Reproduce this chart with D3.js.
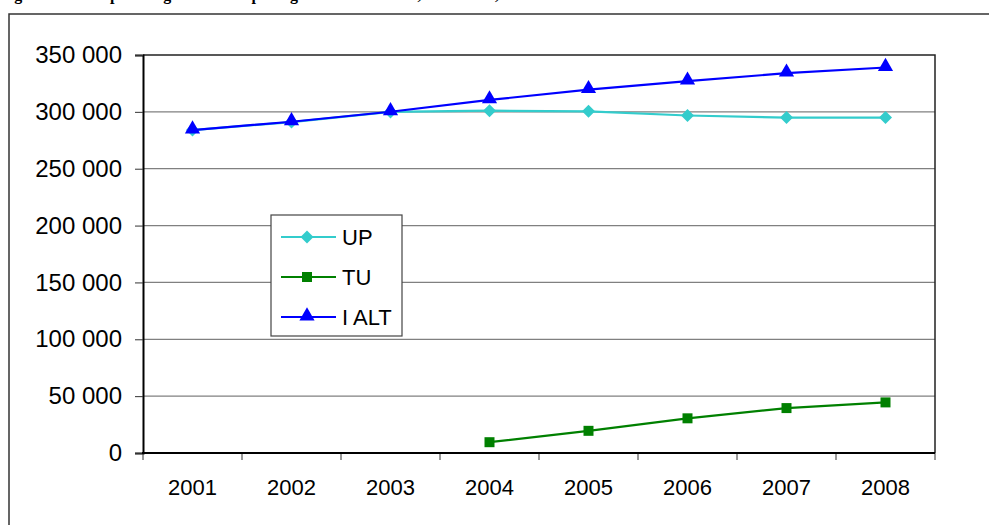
<!DOCTYPE html>
<html lang="da">
<head>
<meta charset="UTF-8">
<script src="https://cdnjs.cloudflare.com/ajax/libs/d3/7.9.0/d3.min.js"></script>
<title>UP, TU og I ALT 2001-2008</title>
<style>
    body { margin: 0; background: white; }
    svg { display: block; font-family: "Liberation Sans", Arial, sans-serif; }
</style>
</head>
<body>
<div id="chart"></div>
<script>
// data
const years = ["2001", "2002", "2003", "2004", "2005", "2006", "2007", "2008"];
const upValues = [284000, 291000, 300000, 301000, 300500, 296800, 295000, 295000];
const tuValues = [null, null, null, 9500, 19500, 30500, 39500, 44500];
const iAltValues = [284000, 291300, 300100, 310500, 319500, 327000, 334000, 339000];
const yTicks = [0, 50000, 100000, 150000, 200000, 250000, 300000, 350000];
const seriesNames = ["UP", "TU", "I ALT"];
const titleText = "Figur 2. Elevtal på UP og TU fordelt på ungdomsuddannelser, 2001-2008,";

const width = 989, height = 525;
const plot = { left: 143, right: 935, top: 55, bottom: 453 };
const fontSize = 22;

const svg = d3.select("#chart").append("svg")
    .attr("width", width)
    .attr("height", height);

// title, cut off by the top of the window
svg.append("text")
    .attr("x", 0).attr("y", 0)
    .attr("font-family", "'Liberation Serif', serif")
    .attr("font-weight", "bold")
    .attr("font-size", 16)
    .text(titleText);

// outer frame (only left and top edges fall inside the window)
svg.append("rect")
    .attr("x", 9).attr("y", 14)
    .attr("width", 1100).attr("height", 600)
    .attr("fill", "none")
    .attr("stroke", "#333")
    .attr("stroke-width", 1.5);

const x = d3.scaleBand().domain(years).range([plot.left, plot.right]);
const y = d3.scaleLinear().domain([0, 350000]).range([plot.bottom, plot.top]);
const cx = (d, i) => x(years[i]) + x.bandwidth() / 2;

// gridlines
svg.append("g").selectAll("line")
    .data(yTicks.filter(d => d > 0 && d < 350000))
    .join("line")
    .attr("x1", plot.left).attr("x2", plot.right)
    .attr("y1", d => y(d)).attr("y2", d => y(d))
    .attr("stroke", "#808080")
    .attr("stroke-width", 1.2);

// plot area border (top + right)
svg.append("path")
    .attr("d", `M${plot.left},${y(350000)}H${plot.right}V${plot.bottom}`)
    .attr("fill", "none")
    .attr("stroke", "#222")
    .attr("stroke-width", 1.5);

// y axis
const fmt = d => d3.format(",")(d).replace(/,/g, " ");
const yAxis = svg.append("g")
    .attr("transform", `translate(${plot.left},0)`)
    .call(d3.axisLeft(y).tickValues(yTicks).tickSize(8).tickPadding(13).tickFormat(fmt));
yAxis.select(".domain").attr("stroke", "#000").attr("stroke-width", 2);
yAxis.selectAll(".tick line").attr("stroke", "#333");
yAxis.selectAll("text").attr("font-size", 24).attr("font-family", "'Liberation Sans', Arial, sans-serif").attr("fill", "#000");

// x axis: labels at band centres, ticks on band edges
const xAxis = svg.append("g")
    .attr("transform", `translate(0,${plot.bottom})`)
    .call(d3.axisBottom(x).tickSize(0).tickPadding(26));
xAxis.select(".domain").remove();
xAxis.selectAll("text").attr("font-size", fontSize).attr("font-family", "'Liberation Sans', Arial, sans-serif").attr("fill", "#000");
xAxis.selectAll(".edge")
    .data(years.map(d => x(d)).concat([plot.right]))
    .join("line")
    .attr("class", "edge")
    .attr("x1", d => d).attr("x2", d => d)
    .attr("y1", 0).attr("y2", 7)
    .attr("stroke", "#333");
xAxis.append("line")
    .attr("x1", plot.left - 1).attr("x2", plot.right)
    .attr("stroke", "#000").attr("stroke-width", 2);

// series
const series = [
    { name: seriesNames[0], values: upValues, color: "#33CCCC", symbol: "diamond" },
    { name: seriesNames[1], values: tuValues, color: "#008000", symbol: "square" },
    { name: seriesNames[2], values: iAltValues, color: "#0000FF", symbol: "triangle" }
];

const markerPath = {
    diamond: d3.symbol(d3.symbolSquare, 85)(),
    square: d3.symbol(d3.symbolSquare, 100)(),
    triangle: d3.symbol(d3.symbolTriangle, 100)()
};
const markerRotate = { diamond: 45, square: 0, triangle: 0 };
const markerShift = { diamond: 0, square: 0, triangle: -1 };

const line = d3.line()
    .defined(d => d != null)
    .x(cx)
    .y(d => y(d));

series.forEach(s => {
    const g = svg.append("g");
    g.append("path")
        .attr("d", line(s.values))
        .attr("fill", "none")
        .attr("stroke", s.color)
        .attr("stroke-width", 2.2);
    g.selectAll("path.marker")
        .data(s.values.map((v, i) => ({ v, i })).filter(d => d.v != null))
        .join("path")
        .attr("class", "marker")
        .attr("d", markerPath[s.symbol])
        .attr("transform", d => `translate(${cx(d.v, d.i)},${y(d.v) + markerShift[s.symbol]}) rotate(${markerRotate[s.symbol]})`)
        .attr("fill", s.color);
});

// legend
const legend = svg.append("g");
legend.append("rect")
    .attr("x", 271).attr("y", 215)
    .attr("width", 131).attr("height", 121)
    .attr("fill", "white")
    .attr("stroke", "#444")
    .attr("stroke-width", 1.2);
const legendY = d3.scalePoint().domain(seriesNames).range([237, 317]);
series.forEach(s => {
    const ly = legendY(s.name);
    legend.append("line")
        .attr("x1", 281).attr("x2", 336)
        .attr("y1", ly).attr("y2", ly)
        .attr("stroke", s.color).attr("stroke-width", 2.2);
    legend.append("path")
        .attr("d", markerPath[s.symbol])
        .attr("transform", `translate(307,${ly + markerShift[s.symbol]}) rotate(${markerRotate[s.symbol]})`)
        .attr("fill", s.color);
    legend.append("text")
        .attr("x", 342).attr("y", ly)
        .attr("dy", "0.36em")
        .attr("font-size", fontSize)
        .text(s.name);
});
</script>
</body>
</html>
